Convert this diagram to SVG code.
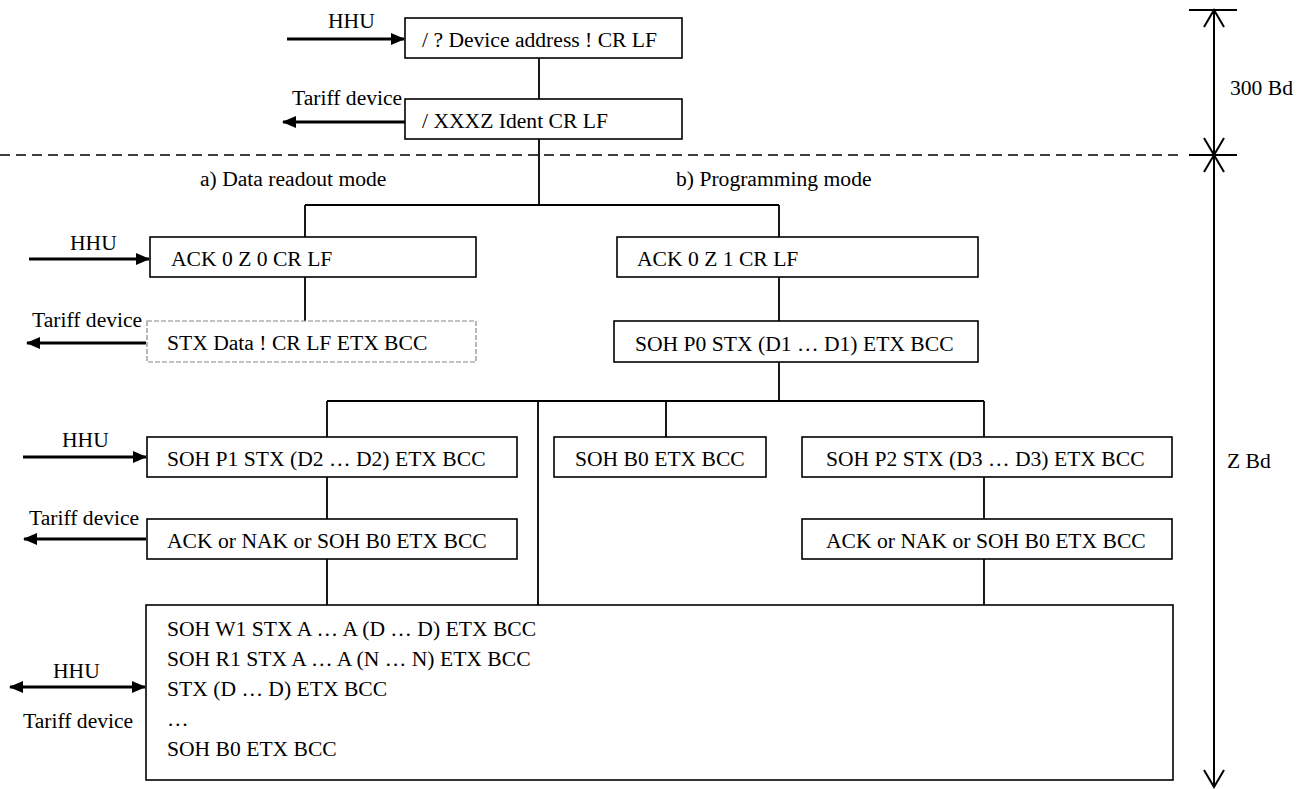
<svg xmlns="http://www.w3.org/2000/svg" width="1308" height="789" viewBox="0 0 1308 789">
<style>
text{font-family:"Liberation Serif","Times New Roman",serif;font-size:21.6px;fill:#000}
.box{fill:#fff;stroke:#000;stroke-width:1.6}
.faint{fill:#fff;stroke:#888;stroke-width:1.2;stroke-dasharray:5 2}
.conn{stroke:#000;stroke-width:1.8;fill:none}
.arr{stroke:#000;stroke-width:3;fill:none}
.dim{stroke:#000;stroke-width:2;fill:none}
</style>
<defs>
<marker id="ah" viewBox="0 0 14 12" refX="13" refY="6" markerWidth="14" markerHeight="12" markerUnits="userSpaceOnUse" orient="auto-start-reverse">
<path d="M0,0 L14,6 L0,12 Z" fill="#000"/>
</marker>
</defs>
<rect width="1308" height="789" fill="#fff"/>

<g id="connectors">
<line class="conn" x1="539" y1="58" x2="539" y2="99"/>
<line class="conn" x1="539" y1="139" x2="539" y2="205"/>
<line class="conn" x1="305" y1="205" x2="779" y2="205"/>
<line class="conn" x1="305" y1="205" x2="305" y2="237"/>
<line class="conn" x1="779" y1="205" x2="779" y2="237"/>
<line class="conn" x1="305" y1="277" x2="305" y2="321"/>
<line class="conn" x1="779" y1="277" x2="779" y2="321"/>
<line class="conn" x1="779" y1="362" x2="779" y2="401"/>
<line class="conn" x1="327" y1="401" x2="984" y2="401"/>
<line class="conn" x1="327" y1="401" x2="327" y2="437"/>
<line class="conn" x1="327" y1="477" x2="327" y2="519"/>
<line class="conn" x1="327" y1="559" x2="327" y2="605"/>
<line class="conn" x1="538" y1="401" x2="538" y2="605"/>
<line class="conn" x1="666" y1="401" x2="666" y2="437"/>
<line class="conn" x1="984" y1="401" x2="984" y2="437"/>
<line class="conn" x1="984" y1="477" x2="984" y2="519"/>
<line class="conn" x1="984" y1="559" x2="984" y2="605"/>
<line x1="0" y1="155" x2="1184" y2="155" stroke="#000" stroke-width="1.5" stroke-dasharray="10 6"/>
</g>

<g id="io-arrows">
<line class="arr" x1="287" y1="39" x2="404" y2="39" marker-end="url(#ah)"/>
<text x="328" y="28">HHU</text>
<line class="arr" x1="405" y1="122" x2="283" y2="122" marker-end="url(#ah)"/>
<text x="292" y="105">Tariff device</text>
<line class="arr" x1="29" y1="259" x2="149" y2="259" marker-end="url(#ah)"/>
<text x="70" y="250">HHU</text>
<line class="arr" x1="146" y1="343" x2="27" y2="343" marker-end="url(#ah)"/>
<text x="32" y="327">Tariff device</text>
<line class="arr" x1="23" y1="457" x2="146" y2="457" marker-end="url(#ah)"/>
<text x="62" y="447">HHU</text>
<line class="arr" x1="146" y1="539" x2="24" y2="539" marker-end="url(#ah)"/>
<text x="29" y="525">Tariff device</text>
<line class="arr" x1="10" y1="687" x2="145" y2="687" marker-start="url(#ah)" marker-end="url(#ah)"/>
<text x="53" y="678">HHU</text>
<text x="23" y="728">Tariff device</text>
</g>

<g id="n-start"><rect class="box" x="405" y="18" width="277" height="40"/><text x="422" y="47">/ ? Device address ! CR LF</text></g>
<g id="n-ident"><rect class="box" x="405" y="99" width="277" height="40"/><text x="422" y="128">/ XXXZ Ident CR LF</text></g>
<g id="lbl-a"><text x="200" y="186">a) Data readout mode</text></g>
<g id="lbl-b"><text x="676" y="186">b) Programming mode</text></g>
<g id="n-ack0"><rect class="box" x="150" y="237" width="326" height="40"/><text x="171" y="266">ACK 0 Z 0 CR LF</text></g>
<g id="n-data"><rect class="faint" x="147" y="321" width="329" height="41"/><text x="167" y="350">STX Data ! CR LF ETX BCC</text></g>
<g id="n-ack1"><rect class="box" x="617" y="237" width="361" height="40"/><text x="637" y="266">ACK 0 Z 1 CR LF</text></g>
<g id="n-p0"><rect class="box" x="614" y="321" width="364" height="41"/><text x="635" y="351">SOH P0 STX (D1 … D1) ETX BCC</text></g>
<g id="n-p1"><rect class="box" x="147" y="437" width="370" height="40"/><text x="167" y="466">SOH P1 STX (D2 … D2) ETX BCC</text></g>
<g id="n-b0"><rect class="box" x="554" y="437" width="212" height="40"/><text x="575" y="466">SOH B0 ETX BCC</text></g>
<g id="n-p2"><rect class="box" x="802" y="437" width="370" height="40"/><text x="826" y="466">SOH P2 STX (D3 … D3) ETX BCC</text></g>
<g id="n-resp1"><rect class="box" x="147" y="519" width="370" height="40"/><text x="167" y="548">ACK or NAK or SOH B0 ETX BCC</text></g>
<g id="n-resp2"><rect class="box" x="802" y="519" width="370" height="40"/><text x="826" y="548">ACK or NAK or SOH B0 ETX BCC</text></g>
<g id="n-rw">
<rect class="box" x="146" y="605" width="1027" height="175"/>
<text x="167" y="636">SOH W1 STX A … A (D … D) ETX BCC</text>
<text x="167" y="666">SOH R1 STX A … A (N … N) ETX BCC</text>
<text x="167" y="696">STX (D … D) ETX BCC</text>
<text x="167" y="726">…</text>
<text x="167" y="756">SOH B0 ETX BCC</text>
</g>

<g id="dimensions">
<line class="dim" x1="1189" y1="10" x2="1237" y2="10"/>
<line class="dim" x1="1189" y1="155" x2="1237" y2="155"/>
<line class="dim" x1="1214" y1="10" x2="1214" y2="787"/>
<polyline class="dim" points="1204,27 1214,10 1224,27"/>
<polyline class="dim" points="1204,138 1214,155 1224,138"/>
<polyline class="dim" points="1204,172 1214,155 1224,172"/>
<polyline class="dim" points="1204,770 1214,787 1224,770"/>
<text x="1230" y="95">300 Bd</text>
<text x="1227" y="468">Z Bd</text>
</g>
</svg>
